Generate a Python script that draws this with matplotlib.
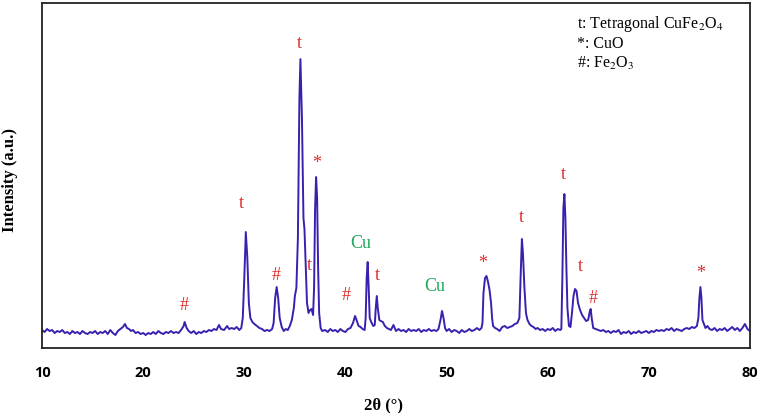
import matplotlib
matplotlib.use('Agg')
import matplotlib.pyplot as plt

# XRD pattern (2theta in degrees, intensity in arbitrary units)
two_theta = [
    10.0, 10.25, 10.5, 10.75, 11.0, 11.25, 11.5, 11.75, 12.0, 12.25, 12.5, 12.75,
    13.0, 13.25, 13.5, 13.75, 14.0, 14.25, 14.5, 14.75, 15.0, 15.25, 15.5, 15.75,
    16.0, 16.25, 16.5, 16.75, 17.0, 17.25, 17.5, 17.75, 18.0, 18.2, 18.4, 18.6,
    18.8, 19.0, 19.25, 19.5, 19.75, 20.0, 20.25, 20.5, 20.75, 21.0, 21.25, 21.5,
    21.75, 22.0, 22.25, 22.5, 22.75, 23.0, 23.25, 23.5, 23.75, 24.0, 24.1, 24.3,
    24.5, 24.75, 25.0, 25.25, 25.5, 25.75, 26.0, 26.25, 26.5, 26.75, 27.0, 27.25,
    27.5, 27.7, 28.0, 28.3, 28.5, 28.75, 29.0, 29.25, 29.5, 29.7, 29.85, 30.0,
    30.15, 30.3, 30.45, 30.6, 30.8, 31.0, 31.25, 31.5, 31.75, 32.0, 32.25, 32.5,
    32.75, 32.9, 33.05, 33.2, 33.35, 33.5, 33.7, 33.9, 34.1, 34.3, 34.5, 34.7,
    34.9, 35.0, 35.15, 35.3, 35.45, 35.55, 35.7, 35.85, 35.95, 36.05, 36.2, 36.35,
    36.5, 36.65, 36.8, 36.9, 37.0, 37.1, 37.2, 37.3, 37.4, 37.55, 37.7, 38.0,
    38.25, 38.5, 38.75, 39.0, 39.25, 39.5, 39.75, 40.0, 40.25, 40.5, 40.75, 40.95,
    41.1, 41.3, 41.5, 41.7, 41.9, 42.0, 42.1, 42.2, 42.3, 42.4, 42.55, 42.75,
    42.9, 43.0, 43.1, 43.2, 43.35, 43.5, 43.7, 43.9, 44.1, 44.3, 44.5, 44.75,
    45.0, 45.25, 45.5, 45.75, 46.0, 46.25, 46.5, 46.75, 47.0, 47.25, 47.5, 47.75,
    48.0, 48.25, 48.5, 48.75, 49.0, 49.2, 49.4, 49.55, 49.7, 49.85, 50.0, 50.25,
    50.5, 50.75, 51.0, 51.25, 51.5, 51.75, 52.0, 52.25, 52.5, 52.75, 53.0, 53.25,
    53.45, 53.55, 53.65, 53.8, 53.95, 54.1, 54.25, 54.4, 54.5, 54.6, 54.8, 55.0,
    55.25, 55.5, 55.75, 56.0, 56.25, 56.5, 56.75, 57.0, 57.2, 57.35, 57.45, 57.55,
    57.7, 57.85, 58.0, 58.2, 58.4, 58.6, 58.8, 59.0, 59.25, 59.5, 59.75, 60.0,
    60.25, 60.5, 60.75, 61.0, 61.25, 61.35, 61.45, 61.55, 61.65, 61.75, 61.85, 61.95,
    62.1, 62.25, 62.4, 62.55, 62.7, 62.85, 63.0, 63.2, 63.4, 63.6, 63.8, 64.0,
    64.15, 64.25, 64.35, 64.5, 64.75, 65.0, 65.25, 65.5, 65.75, 66.0, 66.25, 66.5,
    66.75, 67.0, 67.25, 67.5, 67.75, 68.0, 68.25, 68.5, 68.75, 69.0, 69.25, 69.5,
    69.75, 70.0, 70.25, 70.5, 70.75, 71.0, 71.25, 71.5, 71.75, 72.0, 72.25, 72.5,
    72.75, 73.0, 73.25, 73.5, 73.75, 74.0, 74.25, 74.5, 74.75, 74.9, 75.0, 75.1,
    75.2, 75.3, 75.45, 75.6, 75.8, 76.0, 76.25, 76.5, 76.75, 77.0, 77.25, 77.5,
    77.75, 78.0, 78.25, 78.5, 78.75, 79.0, 79.25, 79.5, 79.75, 80.0,
]
intensity = [
    18, 16, 19, 17, 18, 15, 17, 16, 18, 15, 16, 14,
    17, 15, 16, 14, 17, 15, 14, 16, 15, 17, 14, 16,
    15, 17, 14, 18, 15, 13, 17, 19, 21, 24, 20, 19,
    17, 18, 15, 16, 14, 15, 13, 15, 14, 16, 14, 17,
    15, 14, 16, 15, 17, 15, 16, 15, 18, 22, 26, 20,
    17, 15, 17, 14, 16, 15, 17, 16, 18, 17, 19, 18,
    23, 19, 18, 22, 19, 20, 19, 21, 18, 20, 30, 70,
    116, 90, 45, 30, 26, 24, 22, 20, 19, 17, 18, 17,
    19, 25, 50, 61, 50, 30, 21, 17, 19, 18, 22, 28,
    40, 52, 60, 110, 250, 289, 230, 130, 119, 90, 45, 35,
    38, 39, 33, 60, 140, 171, 150, 80, 35, 20, 17, 18,
    16, 19, 17, 18, 16, 19, 17, 16, 19, 20, 25, 32,
    28, 22, 21, 19, 18, 30, 70, 86, 60, 30, 26, 22,
    23, 40, 52, 40, 28, 27, 26, 22, 20, 19, 18, 23,
    17, 19, 17, 18, 16, 19, 17, 18, 17, 19, 16, 18,
    17, 19, 17, 18, 17, 19, 28, 37, 30, 20, 17, 19,
    16, 18, 17, 15, 18, 16, 17, 19, 17, 18, 20, 18,
    20, 25, 55, 70, 72, 66, 58, 45, 30, 22, 20, 19,
    17, 21, 22, 20, 21, 22, 24, 25, 30, 80, 109, 95,
    60, 35, 28, 24, 22, 21, 19, 20, 18, 19, 17, 19,
    18, 20, 17, 19, 18, 19, 70, 140, 154, 130, 80, 40,
    22, 21, 35, 52, 59, 57, 45, 38, 33, 30, 27, 28,
    36, 39, 30, 20, 19, 18, 17, 18, 16, 17, 15, 17,
    16, 18, 14, 16, 15, 17, 14, 16, 15, 17, 15, 16,
    17, 15, 17, 16, 18, 17, 18, 17, 19, 18, 20, 17,
    19, 18, 17, 19, 20, 19, 21, 20, 22, 30, 50, 61,
    50, 28, 24, 20, 22, 19, 18, 20, 17, 19, 18, 20,
    17, 19, 21, 18, 20, 17, 20, 24, 19, 17,
]

# phase markers: (symbol, 2theta, height, colour)
mark_text = ['#', 't', '#', 't', 't', '*', '#', 'Cu', 't', 'Cu', '*', 't', 't', 't', '#', '*']
mark_x = [24.1, 29.7, 33.2, 35.4, 36.4, 37.2, 40.1, 41.5, 43.2, 48.8, 53.6, 57.4, 61.5, 63.2, 64.5, 75.1]
mark_y = [44, 146, 74, 306, 84, 186, 54, 106, 74, 63, 86, 132, 175, 83, 51, 76]

legend_lines = ['t: Tetragonal CuFe$_2$O$_4$', '*: CuO', '#: Fe$_2$O$_3$']

plt.rcParams['mathtext.fontset'] = 'stix'

fig = plt.figure(figsize=(7.6, 4.14), dpi=100)
ax = fig.add_axes([0.0553, 0.157, 0.9315, 0.833])

ax.plot(two_theta, intensity, color='#3b1fae', lw=1.4)

red = '#e02a2a'
green = '#1fa85a'
for s, x, y in zip(mark_text, mark_x, mark_y):
    c = green if s == 'Cu' else red
    ax.text(x, y, s, color=c, ha='center', va='center', fontsize=13,
            family='Liberation Serif')

for i, line in enumerate(legend_lines):
    ax.text(0.756, 0.942 - i * 0.057, line, transform=ax.transAxes, ha='left',
            va='center', fontsize=11.5, family='Liberation Serif')

ax.set_xlim(10, 80)
ax.set_ylim(0, 345)
ax.set_xticks([10, 20, 30, 40, 50, 60, 70, 80])
ax.set_yticks([])
ax.tick_params(axis='x', length=0, pad=12)
for lab in ax.get_xticklabels():
    lab.set_fontweight('bold')
    lab.set_fontsize(10.5)
    lab.set_family('Open Sans')

for sp in ax.spines.values():
    sp.set_linewidth(1.3)
    sp.set_color('#222222')

ax.set_xlabel('2θ (°)', fontsize=12, fontweight='bold', family='Liberation Serif')
ax.xaxis.set_label_coords(0.482, -0.14)
ax.set_ylabel('Intensity (a.u.)', fontsize=12, fontweight='bold',
              family='Liberation Serif')
ax.yaxis.set_label_coords(-0.034, 0.49)

fig.savefig('out.png', dpi=100)
